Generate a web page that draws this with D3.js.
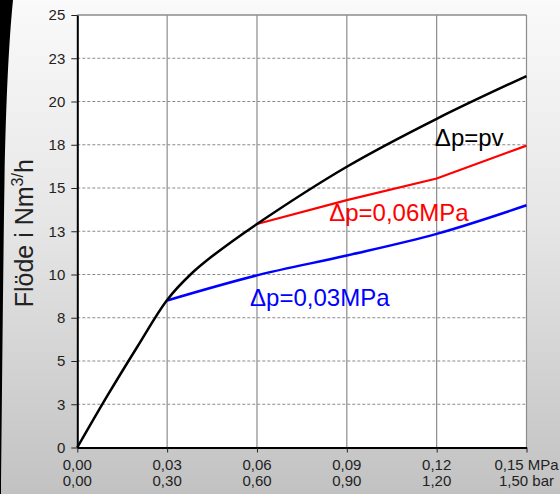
<!DOCTYPE html>
<html><head><meta charset="utf-8">
<script src="https://cdn.jsdelivr.net/npm/d3@7"></script>
<style>html,body{margin:0;padding:0;background:#fff;}svg{display:block;}</style>
</head><body>
<script>
// ---- data ----
const xTicks = [0, 0.03, 0.06, 0.09, 0.12, 0.15];
const xLabelsMPa = ["0,00", "0,03", "0,06", "0,09", "0,12", "0,15 MPa"];
const xLabelsBar = ["0,00", "0,30", "0,60", "0,90", "1,20", "1,50 bar"];
const yTicks = [0, 2.5, 5, 7.5, 10, 12.5, 15, 17.5, 20, 22.5, 25];
const yLabels = ["0", "3", "5", "8", "10", "13", "15", "18", "20", "23", "25"];

const pvX = [0, 0.010, 0.020, 0.030, 0.0378, 0.045, 0.060, 0.090, 0.120, 0.150];
const pvY = [0, 2.98, 5.81, 8.53, 10.0, 11.05, 12.92, 16.23, 19.0, 21.47];
const p06X = [0.060, 0.090, 0.120, 0.150];
const p06Y = [12.92, 14.3, 15.55, 17.45];
const p03X = [0.030, 0.060, 0.090, 0.120, 0.150];
const p03Y = [8.5, 9.95, 11.1, 12.35, 14.0];

const W = 560, H = 494;
const svg = d3.select("body").append("svg").attr("width", W).attr("height", H);

const defs = svg.append("defs");
const grad = defs.append("linearGradient").attr("id", "bg").attr("x1", 0).attr("y1", 0).attr("x2", 0).attr("y2", 1);
grad.append("stop").attr("offset", "0%").attr("stop-color", "#fafafa");
grad.append("stop").attr("offset", "45%").attr("stop-color", "#e6e6e6");
grad.append("stop").attr("offset", "100%").attr("stop-color", "#c2c2c2");
svg.append("rect").attr("width", W).attr("height", H).attr("fill", "url(#bg)");

// left black frame edge
svg.append("path")
  .attr("d", "M0,0 L13,0 C9,40 6,100 4.5,180 C3,280 2,400 1,494 L0,494 Z")
  .attr("fill", "#000");

const x = d3.scaleLinear().domain([0, 0.15]).range([77.3, 526.5]);
const y = d3.scaleLinear().domain([0, 25]).range([447.5, 15]);

// plot background
svg.append("rect").attr("x", x(0)).attr("y", y(25)).attr("width", x(0.15) - x(0)).attr("height", y(0) - y(25)).attr("fill", "#fff");

// horizontal dashed grid
svg.append("g").selectAll("line").data(yTicks.filter(d => d > 0 && d < 25)).join("line")
  .attr("x1", x(0)).attr("x2", x(0.15)).attr("y1", d => y(d)).attr("y2", d => y(d))
  .attr("stroke", "#8a8a8a").attr("stroke-width", 1).attr("stroke-dasharray", "3,2");
// vertical grid
svg.append("g").selectAll("line").data(xTicks.filter(d => d > 0)).join("line")
  .attr("x1", d => x(d)).attr("x2", d => x(d)).attr("y1", y(0)).attr("y2", y(25))
  .attr("stroke", "#8c8c8c").attr("stroke-width", 1.2);
// top border
svg.append("line").attr("x1", x(0)).attr("x2", x(0.15)).attr("y1", y(25)).attr("y2", y(25))
  .attr("stroke", "#8c8c8c").attr("stroke-width", 1.5);

// axes
const yAxis = d3.axisLeft(y).tickValues(yTicks).tickFormat((d, i) => yLabels[i]).tickSize(6).tickSizeOuter(0).tickPadding(6);
const gy = svg.append("g").attr("transform", `translate(${x(0)},0)`).call(yAxis);
gy.select(".domain").attr("stroke", "#000").attr("stroke-width", 2);
gy.selectAll(".tick line").attr("stroke", "#222");
gy.selectAll("text").attr("font-family", "'Liberation Sans', Arial, sans-serif").attr("font-size", 15).attr("fill", "#222");

const xAxis = d3.axisBottom(x).tickValues(xTicks).tickFormat("").tickSize(5).tickSizeOuter(0);
const gx = svg.append("g").attr("transform", `translate(0,${y(0)})`).call(xAxis);
gx.select(".domain").attr("stroke", "#000").attr("stroke-width", 2);
gx.selectAll(".tick line").attr("stroke", "#222");

const xl = svg.append("g").attr("font-family", "'Liberation Sans', Arial, sans-serif").attr("font-size", 15).attr("fill", "#222").attr("text-anchor", "middle");
xl.selectAll("text.l1").data(xTicks).join("text").attr("class", "l1")
  .attr("x", d => x(d)).attr("y", 470).text((d, i) => xLabelsMPa[i]);
xl.selectAll("text.l2").data(xTicks).join("text").attr("class", "l2")
  .attr("x", d => x(d)).attr("y", 485.7).text((d, i) => xLabelsBar[i]);

// y axis title
const yt = svg.append("text")
  .attr("transform", `translate(33,${(y(0) + y(25)) / 2 + 2}) rotate(-90)`)
  .attr("text-anchor", "middle")
  .attr("font-family", "'Liberation Sans', Arial, sans-serif").attr("font-size", 25).attr("fill", "#222");
yt.append("tspan").text("Flöde i Nm");
yt.append("tspan").attr("font-size", 16).attr("dy", -10).text("3/");
yt.append("tspan").attr("dy", 10).text("h");

// curves
const lineSmooth = d3.line().x(d => x(d[0])).y(d => y(d[1])).curve(d3.curveCatmullRom.alpha(0.5));
const lineStraight = d3.line().x(d => x(d[0])).y(d => y(d[1]));
svg.append("path").datum(p03X.map((v, i) => [v, p03Y[i]])).attr("d", lineSmooth)
  .attr("fill", "none").attr("stroke", "#0000ff").attr("stroke-width", 2.5);
svg.append("path").datum(p06X.map((v, i) => [v, p06Y[i]])).attr("d", lineStraight)
  .attr("fill", "none").attr("stroke", "#ff0000").attr("stroke-width", 2.2);
svg.append("path").datum(pvX.map((v, i) => [v, pvY[i]])).attr("d", lineSmooth)
  .attr("fill", "none").attr("stroke", "#000").attr("stroke-width", 2.5);

// annotations
const ann = svg.append("g").attr("font-family", "'Liberation Sans', Arial, sans-serif").attr("font-size", 24);
ann.append("text").attr("x", x(0.1194)).attr("y", y(17.4)).attr("fill", "#000").text("Δp=pv");
ann.append("text").attr("x", x(0.0841)).attr("y", y(13.1)).attr("fill", "#ff0000").text("Δp=0,06MPa");
ann.append("text").attr("x", x(0.0577)).attr("y", y(8.18)).attr("fill", "#0000ff").text("Δp=0,03MPa");
</script>
</body></html>
